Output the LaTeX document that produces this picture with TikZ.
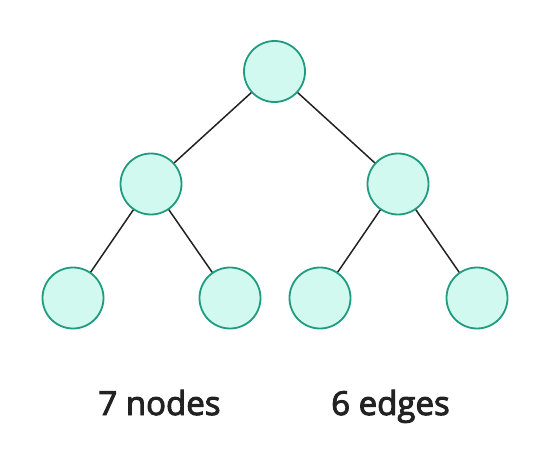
\documentclass[tikz,border=0pt]{standalone}
\usepackage{fontspec}
\setmainfont{Open Sans}[BoldFont={Open Sans},BoldFeatures={FakeBold=3}]
\usepackage{tikz}
\usetikzlibrary{positioning}
\definecolor{NodeFill}{HTML}{D2F9F0}
\definecolor{NodeLine}{HTML}{1F9C80}
\definecolor{EdgeDark}{HTML}{222222}
\tikzset{
  % tree vertex
  vtx/.style={circle,minimum size=61pt,inner sep=0pt,
              fill=NodeFill,draw=NodeLine,line width=1.8pt},
  % tree edge
  edg/.style={draw=EdgeDark,line width=1.5pt},
  % caption
  caption/.style={font=\fontsize{33}{40}\selectfont\bfseries,text=EdgeDark,anchor=base}
}
\begin{document}
\begin{tikzpicture}[x=1pt,y=-1pt]
  \useasboundingbox (0,0) rectangle (550,455);
  \node[vtx] (root) at (274.5,71.5) {};
  \node[vtx] (l)    at (151,184)    {};
  \node[vtx] (r)    at (398,184)    {};
  \node[vtx] (ll)   at (73,298)     {};
  \node[vtx] (lr)   at (230,298)    {};
  \node[vtx] (rl)   at (320,298)    {};
  \node[vtx] (rr)   at (477,298)    {};

  \path[edg] (root)--(l) (root)--(r)
             (l)--(ll) (l)--(lr)
             (r)--(rl) (r)--(rr);

  \node[caption] (nnodes) at (159.5,415) {7 nodes};
  \node[caption] (nedges) at (390.5,415) {6 edges};
\end{tikzpicture}
\end{document}
